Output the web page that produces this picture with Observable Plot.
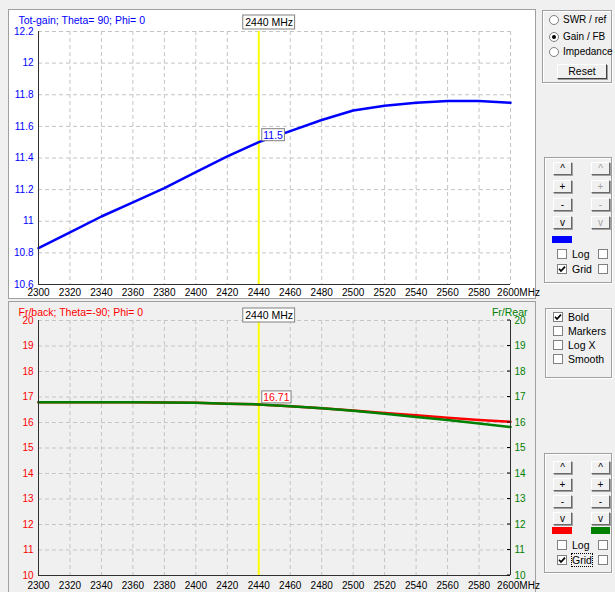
<!DOCTYPE html>
<html>
<head>
<meta charset="utf-8">
<script src="https://cdn.jsdelivr.net/npm/d3@7"></script>
<script src="https://cdn.jsdelivr.net/npm/@observablehq/plot@0.6"></script>
<style>
  body { margin:0; background:#f0f0f0; width:615px; height:592px; overflow:hidden; position:relative;
         font-family:"Liberation Sans", Arial, sans-serif; font-size:11px; color:#000; }
  .panel { position:absolute; border:1px solid #a0a0a0; box-sizing:border-box; }
  .panel svg { display:block; overflow:visible; }
  .group { position:absolute; border:1px solid #a0a0a0; box-sizing:border-box;
           box-shadow: inset 1px 1px 0 #fff, 1px 1px 0 #fff; }
  .btn { position:absolute; width:19px; height:13px; box-sizing:border-box; border:1px solid;
         border-color:#fff #696969 #696969 #fff; background:#f0f0f0; font-size:10px; line-height:11px;
         text-align:center; box-shadow: 1px 1px 0 #a0a0a0; }
  .btn.dis { color:#a0a0a0; }
  .cb { position:absolute; width:10px; height:10px; box-sizing:border-box; border:1px solid #808080; background:#fff; }
  .rd { position:absolute; width:10px; height:10px; box-sizing:border-box; border:1px solid #808080; border-radius:50%; background:#fff; }
  .rd.on::after { content:""; position:absolute; left:2px; top:2px; width:4px; height:4px; border-radius:50%; background:#000; }
  .lbl { position:absolute; font-size:10.5px; line-height:12px; white-space:nowrap; }
  .sw { position:absolute; height:7px; }
</style>
</head>
<body>
<div id="top" class="panel" style="left:8px; top:9px; width:528px; height:290px; background:#fff;"></div>
<div id="bot" class="panel" style="left:8px; top:301px; width:528px; height:293px; background:#f0f0f0;"></div>
<div id="controls"></div>
<script>
// ---------- data ----------
const freqs    = [2300, 2320, 2340, 2360, 2380, 2400, 2420, 2440, 2460, 2480, 2500, 2520, 2540, 2560, 2580, 2600];
const gain     = [10.83, 10.93, 11.03, 11.12, 11.21, 11.31, 11.41, 11.50, 11.57, 11.64, 11.70, 11.73, 11.75, 11.76, 11.76, 11.75];
const frBack   = [16.79, 16.79, 16.79, 16.79, 16.78, 16.77, 16.74, 16.71, 16.64, 16.56, 16.47, 16.37, 16.28, 16.19, 16.10, 16.03];
const frRear   = [16.79, 16.79, 16.79, 16.79, 16.78, 16.77, 16.74, 16.71, 16.64, 16.56, 16.46, 16.34, 16.22, 16.10, 15.96, 15.82];
const xTicks   = [2300, 2320, 2340, 2360, 2380, 2400, 2420, 2440, 2460, 2480, 2500, 2520, 2540, 2560, 2580, 2600];
const gainTicks = [10.6, 10.8, 11.0, 11.2, 11.4, 11.6, 11.8, 12.0, 12.2];
const fbTicks  = [10, 11, 12, 13, 14, 15, 16, 17, 18, 19, 20];
const markerFreq = 2440;
const markerGain = 11.5;
const markerFB = 16.71;

const gainData = freqs.map((f, i) => ({f, v: gain[i]}));
const backData = freqs.map((f, i) => ({f, v: frBack[i]}));
const rearData = freqs.map((f, i) => ({f, v: frRear[i]}));

const FONT = "'Liberation Sans', Arial, sans-serif";
const grid = {stroke:"#c4c4c4", strokeOpacity:1, strokeDasharray:"4,3"};
const fmtY = d => String(Math.round(d * 10) / 10);

// ---------- top chart ----------
const topChart = Plot.plot({
  width: 526, height: 288,
  marginLeft: 29, marginRight: 25, marginTop: 21, marginBottom: 14,
  style: {background:"#fff", fontFamily: FONT, fontSize:"10px", overflow:"visible"},
  x: {domain:[2300, 2600], label: null},
  y: {domain:[10.6, 12.2], label: null},
  marks: [
    Plot.gridX(xTicks, grid),
    Plot.gridY(gainTicks, grid),
    Plot.ruleX([markerFreq], {stroke:"#ffff00", strokeWidth:2}),
    Plot.line(gainData, {x:"f", y:"v", stroke:"#0000ff", strokeWidth:2.5}),
    Plot.ruleX([2300], {stroke:"#303030"}),
    Plot.ruleY([10.6], {stroke:"#303030"}),
    Plot.axisX(xTicks.slice(0, -1), {tickSize:0, tickPadding:4, color:"#000", label:null, tickFormat: d => String(d)}),
    Plot.axisX([2600], {tickSize:0, tickPadding:4, color:"#000", label:null, tickFormat: () => "2600MHz", dx: 8}),
    Plot.axisY(gainTicks, {tickSize:0, tickPadding:5, color:"#0000ff", label:null, tickFormat: fmtY}),
    Plot.text(["Tot-gain; Theta= 90; Phi= 0"], {frameAnchor:"top-left", dx:-20, dy:-15, textAnchor:"start", fill:"#0000ff", fontSize:10.5})
  ]
});
document.getElementById("top").appendChild(topChart);

// ---------- bottom chart ----------
const botChart = Plot.plot({
  width: 526, height: 291,
  marginLeft: 29, marginRight: 25, marginTop: 18, marginBottom: 18,
  style: {background:"#f0f0f0", fontFamily: FONT, fontSize:"10px", overflow:"visible"},
  x: {domain:[2300, 2600], label: null},
  y: {domain:[10, 20], label: null},
  marks: [
    Plot.gridX(xTicks, grid),
    Plot.gridY(fbTicks, grid),
    Plot.ruleX([markerFreq], {stroke:"#ffff00", strokeWidth:2}),
    Plot.line(backData, {x:"f", y:"v", stroke:"#ff0000", strokeWidth:2.5}),
    Plot.line(rearData, {x:"f", y:"v", stroke:"#008000", strokeWidth:2.5}),
    Plot.ruleX([2300, 2600], {stroke:"#303030"}),
    Plot.ruleY([10], {stroke:"#303030"}),
    Plot.axisX(xTicks.slice(0, -1), {tickSize:0, tickPadding:6, color:"#000", label:null, tickFormat: d => String(d)}),
    Plot.axisX([2600], {tickSize:0, tickPadding:6, color:"#000", label:null, tickFormat: () => "2600MHz", dx: 8}),
    Plot.axisY(fbTicks, {anchor:"left", tickSize:0, tickPadding:5, color:"#ff0000", label:null, tickFormat: fmtY}),
    Plot.axisY(fbTicks, {anchor:"right", tickSize:0, tickPadding:4, color:"#008000", label:null, tickFormat: fmtY}),
    Plot.text(["Fr/back; Theta=-90; Phi= 0"], {frameAnchor:"top-left", dx:-20, dy:-12, textAnchor:"start", fill:"#ff0000", fontSize:10.5}),
    Plot.text(["Fr/Rear"], {frameAnchor:"top-right", dx:17, dy:-12, textAnchor:"end", fill:"#008000", fontSize:10.5})
  ]
});
document.getElementById("bot").appendChild(botChart);

// ---------- annotations drawn with the charts' own scales ----------
function freqBox(chart, top) {
  const X = chart.scale("x").apply(markerFreq);
  const g = d3.select(chart).append("g");
  const t = g.append("text").attr("x", X - 13).attr("y", top + 7).attr("dy", "0.35em")
    .attr("text-anchor", "start").attr("fill", "#000").attr("font-size", 10.5).text(markerFreq + " MHz");
  const w = t.node().getComputedTextLength();
  g.insert("rect", "text").attr("x", X - 15.5).attr("y", top).attr("width", w + 4).attr("height", 14)
    .attr("fill", "#fff").attr("stroke", "#808080");
}
function valueBox(chart, value, label, color) {
  const X = chart.scale("x").apply(markerFreq);
  const Y = chart.scale("y").apply(value);
  const g = d3.select(chart).append("g");
  const t = g.append("text").attr("x", X + 5).attr("y", Y - 6.5).attr("dy", "0.35em")
    .attr("text-anchor", "start").attr("fill", color).attr("font-size", 10.5).text(label);
  const w = t.node().getComputedTextLength();
  g.insert("rect", "text").attr("x", X + 3.5).attr("y", Y - 13).attr("width", w + 3).attr("height", 12)
    .attr("fill", "#fff").attr("stroke", "#808080");
}
function rightTicks(chart, ticks) {
  const X = chart.scale("x").apply(2600);
  const ys = chart.scale("y");
  d3.select(chart).append("g").selectAll("line").data(ticks).join("line")
    .attr("x1", X - 3).attr("x2", X).attr("y1", d => ys.apply(d)).attr("y2", d => ys.apply(d))
    .attr("stroke", "#000");
}
freqBox(topChart, 5);
freqBox(botChart, 6);
valueBox(topChart, markerGain, "11.5", "#0000ff");
valueBox(botChart, markerFB, "16.71", "#ff0000");
rightTicks(botChart, fbTicks);

// ---------- side controls ----------
const C = document.getElementById("controls");
function el(cls, l, t, w, h, html, extra) {
  const d = document.createElement("div");
  d.className = cls;
  d.style.left = l + "px"; d.style.top = t + "px";
  if (w != null) d.style.width = w + "px";
  if (h != null) d.style.height = h + "px";
  if (html) d.innerHTML = html;
  if (extra) Object.assign(d.style, extra);
  C.appendChild(d);
  return d;
}
const CHECK = '<svg width="8" height="8" style="position:absolute;left:0;top:0"><path d="M1 3.8 L3 6 L7 1.6" fill="none" stroke="#000" stroke-width="1.7"/></svg>';
function cb(l, t, on) { el("cb", l, t, null, null, on ? CHECK : ""); }
function lbl(l, t, text, extra) { el("lbl", l, t, null, null, text, extra); }

// group A
el("group", 542, 10, 70, 73);
[["SWR / ref", 15, false], ["Gain / FB", 32, true], ["Impedance", 47, false]].forEach(([t, y, on]) => {
  el("rd" + (on ? " on" : ""), 549, y);
  lbl(563, y - 1, t, {fontSize:"10px"});
});
el("btn", 557, 64, 50, 15, "Reset", {fontSize:"10.5px", lineHeight:"13px", borderColor:"#fff #404040 #404040 #fff"});

// group B and D (axis controls)
function axisGroup(top, colors, rightEnabled, focusGrid) {
  el("group", 544, top, 68, top === 157 ? 126 : 120);
  const syms = ["^", "+", "-", "v"];
  const rows = top === 157 ? [162, 180, 198, 216] : [461, 478, 495, 512];
  rows.forEach((y, i) => {
    el("btn", 553, y, null, null, syms[i]);
    el("btn" + (rightEnabled ? "" : " dis"), 591, y, null, null, syms[i]);
  });
  const sw = top === 157 ? 236 : 527;
  el("sw", 552, sw, 20, null, "", {background: colors[0]});
  if (colors[1]) el("sw", 591, sw, 19, null, "", {background: colors[1]});
  const logY = top === 157 ? 249 : 540, gridY = top === 157 ? 264 : 555;
  cb(557, logY, false); lbl(572, logY - 1, "Log"); cb(598, logY, false);
  cb(557, gridY, true);
  lbl(572, gridY - 1, "Grid", focusGrid ? {outline:"1px dotted #000", outlineOffset:"0px"} : null);
  cb(598, gridY, false);
}
axisGroup(157, ["#0000ff", null], false, false);
axisGroup(453, ["#ff0000", "#008000"], true, true);

// group C
el("group", 545, 308, 67, 70);
[["Bold", 312, true], ["Markers", 326, false], ["Log X", 340, false], ["Smooth", 354, false]].forEach(([t, y, on]) => {
  cb(553, y, on); lbl(568, y - 1, t);
});
</script>
</body>
</html>
